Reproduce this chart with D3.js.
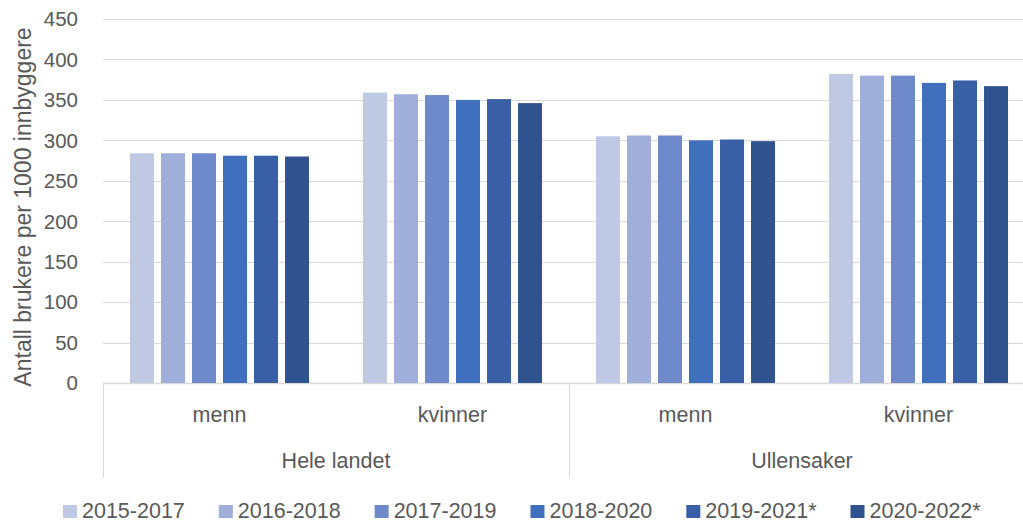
<!DOCTYPE html>
<html>
<head>
<meta charset="utf-8">
<script src="https://cdn.jsdelivr.net/npm/d3@7"></script>
<style>
  body { margin: 0; background: #fff; }
  svg { display: block; font-family: "Liberation Sans", Arial, sans-serif; }
</style>
</head>
<body>
<svg id="chart" width="1023" height="522"></svg>
<script>
// data
const regions = ['Hele landet', 'Ullensaker'];
const sexes = ['menn', 'kvinner'];
const periods = ['2015-2017', '2016-2018', '2017-2019', '2018-2020', '2019-2021*', '2020-2022*'];
// one array per category (region x sex), one value per period
const heleMenn = [284, 284, 284, 281, 281, 280];
const heleKvinner = [359, 357, 356, 350, 351, 346];
const ullMenn = [305, 306, 306, 300, 301, 299];
const ullKvinner = [382, 380, 380, 371, 374, 367];
const yTicks = [0, 50, 100, 150, 200, 250, 300, 350, 400, 450];
const colors = ['#BFC9E4', '#9FAFD9', '#6F8ACB', '#406FBD', '#3960A6', '#30528F'];

const categories = [
  { region: regions[0], sex: sexes[0], values: heleMenn },
  { region: regions[0], sex: sexes[1], values: heleKvinner },
  { region: regions[1], sex: sexes[0], values: ullMenn },
  { region: regions[1], sex: sexes[1], values: ullKvinner },
];
categories.forEach(c => { c.key = c.region + '|' + c.sex; });

const svg = d3.select('#chart');
const textColor = '#595959';
const gridColor = '#d9d9d9';

const plotLeft = 103, plotRight = 1035, plotTop = 19, plotBottom = 383;

const y = d3.scaleLinear().domain([0, 450]).range([plotBottom, plotTop]);
const x0 = d3.scaleBand().domain(categories.map(c => c.key)).range([plotLeft, plotRight]);
const x1 = d3.scaleBand().domain(periods).range([0, x0.bandwidth()])
  .paddingInner(0.226).paddingOuter(0.87);

// gridlines
svg.append('g').selectAll('line').data(yTicks).join('line')
  .attr('x1', plotLeft).attr('x2', 1023)
  .attr('y1', d => Math.round(y(d)) + 0.5).attr('y2', d => Math.round(y(d)) + 0.5)
  .attr('stroke', gridColor).attr('stroke-width', d => d === 0 ? 1.5 : 1);

// y tick labels
svg.append('g').selectAll('text').data(yTicks).join('text')
  .attr('x', 78).attr('y', d => y(d)).attr('dy', '0.36em')
  .attr('text-anchor', 'end').attr('fill', textColor).attr('font-size', 20.5)
  .text(d => d);

// y axis title
svg.append('text')
  .attr('transform', `translate(31,${(plotTop + plotBottom) / 2 + 6}) rotate(-90)`)
  .attr('text-anchor', 'middle').attr('fill', textColor).attr('font-size', 23)
  .text('Antall brukere per 1000 innbyggere');

// bars
const groups = svg.append('g').selectAll('g').data(categories).join('g')
  .attr('transform', d => `translate(${x0(d.key)},0)`);
groups.selectAll('rect').data(d => d.values.map((v, i) => ({ period: periods[i], value: v, i })))
  .join('rect')
  .attr('x', d => x1(d.period)).attr('width', x1.bandwidth())
  .attr('y', d => y(d.value)).attr('height', d => y(0) - y(d.value))
  .attr('fill', d => colors[d.i]);

// category labels (sex)
svg.append('g').selectAll('text').data(categories).join('text')
  .attr('x', d => x0(d.key) + x0.bandwidth() / 2).attr('y', 422)
  .attr('text-anchor', 'middle').attr('fill', textColor).attr('font-size', 21.5)
  .text(d => d.sex);

// region labels and dividers
const regionSpan = r => {
  const keys = categories.filter(c => c.region === r).map(c => c.key);
  return [x0(keys[0]), x0(keys[keys.length - 1]) + x0.bandwidth()];
};
regions.forEach(r => {
  const [a, b] = regionSpan(r);
  svg.append('text')
    .attr('x', (a + b) / 2).attr('y', 468)
    .attr('text-anchor', 'middle').attr('fill', textColor).attr('font-size', 21.5)
    .text(r);
  svg.append('line')
    .attr('x1', Math.round(a) + 0.5).attr('x2', Math.round(a) + 0.5)
    .attr('y1', plotBottom).attr('y2', 477)
    .attr('stroke', gridColor).attr('stroke-width', 1);
});

// legend
const legend = svg.append('g');
let lx = 63;
periods.forEach((p, i) => {
  legend.append('rect')
    .attr('x', lx).attr('y', 505).attr('width', 14).attr('height', 13)
    .attr('fill', colors[i]);
  const t = legend.append('text')
    .attr('x', lx + 19).attr('y', 518)
    .attr('fill', textColor).attr('font-size', 21.5)
    .text(p);
  lx += 19 + t.node().getComputedTextLength() + 34;
});
</script>
</body>
</html>
